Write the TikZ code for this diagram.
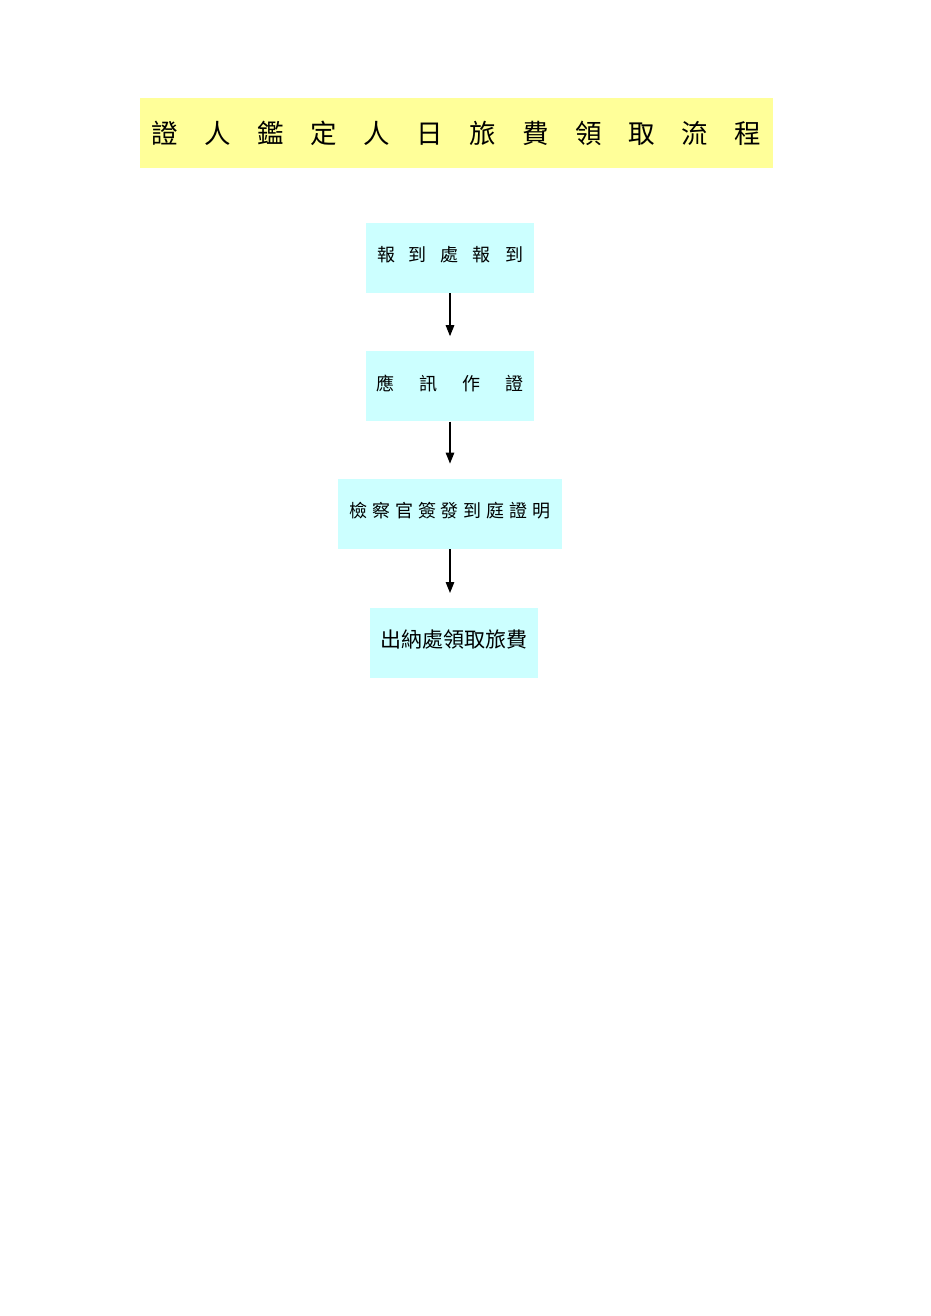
\documentclass[tikz,border=0pt]{standalone}
\usepackage{fontspec}
\newfontfamily\cjk{Noto Sans CJK TC}
\usepackage{tikz}
\usetikzlibrary{positioning,arrows.meta}
\usepackage{xcolor}
\definecolor{titleyellow}{HTML}{FFFF99}
\definecolor{boxcyan}{HTML}{CCFFFF}
\tikzset{block/.style={fill=boxcyan, minimum width=168pt, minimum height=70pt, inner sep=0pt, align=center,
		text height=16pt, text depth=8.4pt},
	line/.style={-{Triangle[length=11pt,width=8.5pt]}, line width=1.3pt, shorten >=15pt}
}

\begin{document}
\begin{tikzpicture}[x=1pt,y=-1pt]
\tikzstyle{heading} = [fill=titleyellow, minimum width=633pt, minimum height=70pt, inner sep=0pt,
font={\cjk\fontsize{26.5}{26.5}\selectfont}]
\useasboundingbox (0,0) rectangle (930,1316);

\node [heading] (T) at (456.5,133) {證　人　鑑　定　人　日　旅　費　領　取　流　程};

\node [block, font={\cjk\fontsize{18}{18}\selectfont\spaceskip=14pt}] (R) at (450,258) {報 到 處 報 到};
\node [block, below=58pt of R, font={\cjk\fontsize{18}{18}\selectfont\spaceskip=25pt}] (W) {應 訊 作 證};
\node [block, below=57pt of W, minimum width=224pt, font={\cjk\fontsize{18}{18}\selectfont\spaceskip=4.8pt}] (C) {檢 察 官 簽 發 到 庭 證 明};
\node [block, below=59pt of C, xshift=4pt, text height=18pt, text depth=10pt, font={\cjk\fontsize{21}{21}\selectfont}] (F) {出納處領取旅費};

%Lines
\draw[line] (R.south) -- (W.north);
\draw[line] (W.south) -- (C.north);
\draw[line] (C.south) -- (C.south |- F.north);
\end{tikzpicture}
\end{document}
